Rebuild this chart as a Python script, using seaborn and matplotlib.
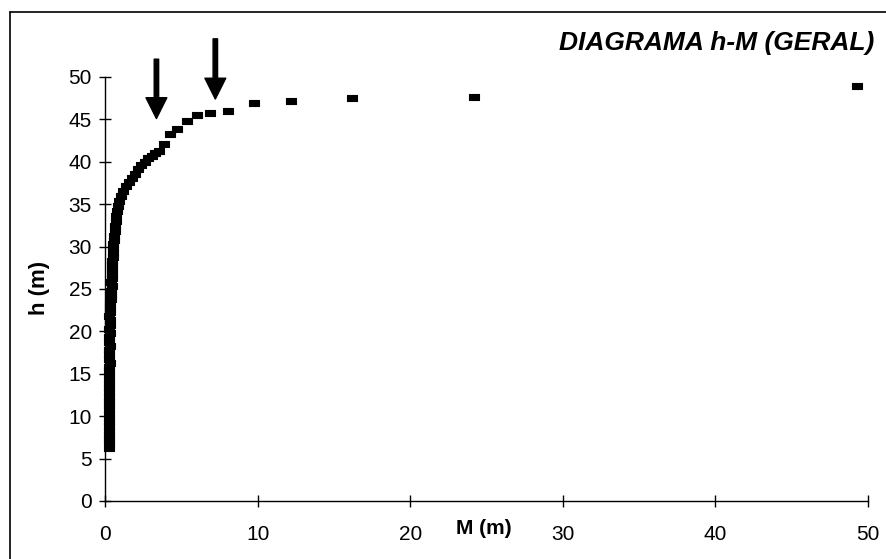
import matplotlib
matplotlib.use("Agg")
import matplotlib.pyplot as plt
import seaborn as sns
import pandas as pd
from matplotlib.lines import Line2D

# ---- data ----
M_col = [0.26, 0.27, 0.26, 0.28, 0.27, 0.26, 0.28, 0.27, 0.29, 0.27, 0.28, 0.26,
         0.27, 0.29, 0.28, 0.27, 0.28, 0.29, 0.27, 0.28, 0.30, 0.28, 0.29, 0.27,
         0.30, 0.29, 0.28, 0.30, 0.29, 0.31, 0.30, 0.29, 0.31, 0.30, 0.32]
h_col = [6.3, 6.8, 7.3, 7.8, 8.3, 8.8, 9.3, 9.8, 10.3, 10.8, 11.3, 11.8,
         12.3, 12.8, 13.3, 13.8, 14.3, 14.8, 15.3, 15.8, 16.3, 16.8, 17.3, 17.8,
         18.3, 18.8, 19.3, 19.8, 20.3, 20.8, 21.3, 21.8, 22.3, 22.8, 23.3]

M_curve = [0.40, 0.42, 0.41, 0.43, 0.42, 0.44, 0.45, 0.43, 0.46, 0.48, 0.50, 0.52,
           0.53, 0.55, 0.58, 0.60, 0.63, 0.67, 0.70, 0.74, 0.79, 0.86, 0.94, 1.05,
           1.20, 1.35, 1.55, 1.75, 1.95, 2.15, 2.35, 2.60, 2.85, 3.05, 3.30, 3.55]
h_curve = [23.8, 24.3, 24.8, 25.3, 25.8, 26.3, 26.8, 27.3, 27.8, 28.3, 28.8, 29.3,
           29.8, 30.3, 30.8, 31.3, 31.8, 32.4, 33.0, 33.6, 34.2, 34.8, 35.4, 36.0,
           36.6, 37.1, 37.6, 38.1, 38.6, 39.1, 39.6, 40.0, 40.4, 40.7, 41.0, 41.3]

M_sparse = [3.85, 4.29, 4.72, 5.37, 6.03, 6.86, 8.06, 9.76, 12.2, 16.2, 24.2, 49.3]
h_sparse = [42.1, 43.3, 43.9, 44.8, 45.5, 45.7, 46.0, 46.9, 47.2, 47.5, 47.6, 48.9]

arrow_M = [3.37, 7.23]
arrow_h_start = [52.1, 54.5]
arrow_h_end = [45.1, 47.4]

x_ticks = [0, 10, 20, 30, 40, 50]
y_ticks = [0, 5, 10, 15, 20, 25, 30, 35, 40, 45, 50]

title = "DIAGRAMA h-M (GERAL)"
x_label = "M (m)"
y_label = "h (m)"

df = pd.DataFrame({"M": M_col + M_curve + M_sparse,
                   "h": h_col + h_curve + h_sparse})

# ---- figure ----
sns.set_theme(style="white")
plt.rcParams["font.family"] = ["Liberation Sans", "DejaVu Sans"]
plt.rcParams["text.color"] = "black"
plt.rcParams["axes.labelcolor"] = "black"
plt.rcParams["xtick.color"] = "black"
plt.rcParams["ytick.color"] = "black"

W, H = 886, 559
fig = plt.figure(figsize=(W / 100, H / 100), dpi=100)
ax = fig.add_axes([105 / W, (H - 501) / H, 763 / W, 424 / H])

rect_marker = [(-1, -0.62), (1, -0.62), (1, 0.62), (-1, 0.62), (-1, -0.62)]
sns.scatterplot(data=df, x="M", y="h", ax=ax, marker=rect_marker, s=48,
                color="black", edgecolor="black", linewidth=0.8, legend=False,
                clip_on=False, zorder=3)

for xm, ys, ye in zip(arrow_M, arrow_h_start, arrow_h_end):
    ax.annotate("", xy=(xm, ye), xytext=(xm, ys), annotation_clip=False,
                arrowprops=dict(facecolor="black", edgecolor="black",
                                width=3.2, headwidth=15, headlength=15, shrink=0))

ax.set_xlim(0, 50)
ax.set_ylim(0, 50)
ax.set_xticks(x_ticks)
ax.set_yticks(y_ticks)
ax.set_xlabel("")
ax.set_ylabel("")
for s in ["top", "right"]:
    ax.spines[s].set_visible(False)
for s in ["left", "bottom"]:
    ax.spines[s].set_color("black")
    ax.spines[s].set_linewidth(1.0)
ax.tick_params(axis="both", direction="inout", length=9, width=1, colors="black",
               labelcolor="black", left=True, bottom=True)
ax.tick_params(axis="y", pad=5, labelsize=15)
ax.tick_params(axis="x", pad=13, labelsize=15)
ax.set_facecolor("white")

fig.text(484 / W, 1 - 528 / H, x_label, ha="center", va="center",
         fontsize=15, fontweight="bold", color="black")
fig.text(40 / W, 1 - 288 / H, y_label, ha="center", va="center",
         fontsize=16, fontweight="bold", rotation=90, color="black")
fig.text(874 / W, 1 - 43 / H, title, ha="right", va="center",
         fontsize=19, fontweight="bold", fontstyle="italic", color="black")

# chart-area border (top and left visible)
fig.add_artist(Line2D([10 / W, 1.0], [1 - 12 / H, 1 - 12 / H],
                      transform=fig.transFigure, color="black", lw=1.2))
fig.add_artist(Line2D([10 / W, 10 / W], [0.0, 1 - 12 / H],
                      transform=fig.transFigure, color="black", lw=1.2))

fig.savefig("out.png", dpi=100, facecolor="white")
